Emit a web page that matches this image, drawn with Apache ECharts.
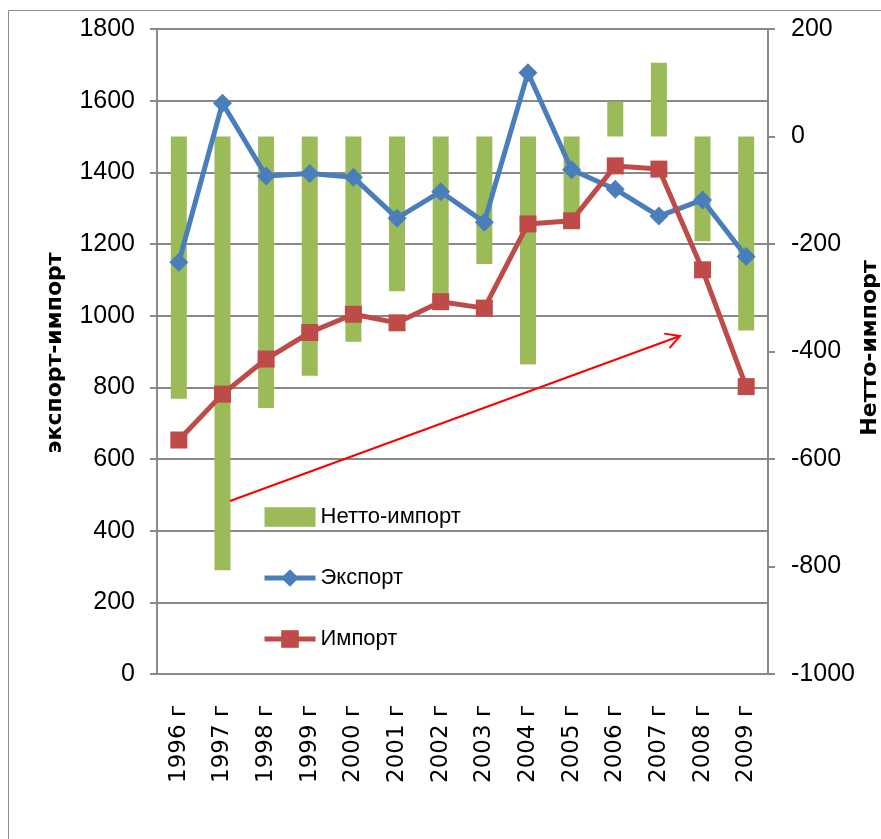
<!DOCTYPE html>
<html>
<head>
<meta charset="utf-8">
<script src="https://cdn.jsdelivr.net/npm/echarts@6/dist/echarts.min.js"></script>
<style>
    html, body { margin: 0; padding: 0; background: #fff; }
    #chart { width: 881px; height: 839px; }
</style>
</head>
<body>
<div id="chart"></div>
<script>
// годы
var years = ['1996 г','1997 г','1998 г','1999 г','2000 г','2001 г','2002 г',
             '2003 г','2004 г','2005 г','2006 г','2007 г','2008 г','2009 г'];
var exportData = [1149,1593,1390,1397,1386,1272,1346,1261,1678,1407,1353,1278,1323,1165];
var importData = [653,781,879,953,1004,980,1039,1021,1256,1265,1418,1409,1128,802];
var nettoData = [-488,-807,-505,-445,-382,-288,-305,-237,-424,-142,65,137,-195,-361];

var leftTitle = 'экспорт-импорт';
var rightTitle = 'Нетто-импорт';

var gray = '#898989';
var numFont = "'Liberation Sans', Arial, sans-serif";

// стрелка (аннотация)
var arrowFrom = [230, 501], arrowTo = [680, 336];

function arrowHead(from, to, len, ang) {
    var a = Math.atan2(to[1] - from[1], to[0] - from[0]);
    var p1 = [to[0] - len * Math.cos(a - ang), to[1] - len * Math.sin(a - ang)];
    var p2 = [to[0] - len * Math.cos(a + ang), to[1] - len * Math.sin(a + ang)];
    return [p1, to, p2];
}

function plain(v) { return String(v); }

function axisTitle(text, x, y) {
    return {
        type: 'text',
        x: x,
        y: y,
        rotation: Math.PI / 2,
        style: {
            text: text,
            fontFamily: 'DejaVu Sans',
            fontWeight: 'bold',
            fontSize: 22,
            fill: '#000',
            align: 'center',
            verticalAlign: 'middle'
        }
    };
}

var myChart = echarts.init(document.getElementById('chart'));

myChart.setOption({
    animation: false,
    grid: { left: 157, right: 113, top: 29, bottom: 165, outerBoundsMode: 'none' },
    legend: {
        orient: 'vertical',
        left: 262,
        top: 506,
        padding: 0,
        itemWidth: 51,
        itemHeight: 22,
        itemGap: 39,
        lineStyle: { width: 5 },
        textStyle: { fontFamily: numFont, fontSize: 22, color: '#000' },
        data: [
            { name: 'Нетто-импорт', icon: 'path://M0,0H50V19H0Z' },
            { name: 'Экспорт' },
            { name: 'Импорт' }
        ]
    },
    xAxis: {
        type: 'category',
        data: years,
        axisLine: { onZero: false, lineStyle: { color: gray, width: 2 } },
        axisTick: { length: 8, lineStyle: { color: gray, width: 2 } },
        axisLabel: {
            rotate: 90,
            margin: 31,
            interval: 0,
            fontFamily: 'DejaVu Sans',
            fontSize: 23,
            color: '#000'
        }
    },
    yAxis: [
        {
            type: 'value',
            min: 0,
            max: 1800,
            interval: 200,
            axisLine: { show: true, lineStyle: { color: gray, width: 2 } },
            axisTick: { show: true, length: 7, lineStyle: { color: gray, width: 2 } },
            axisLabel: { margin: 22, fontFamily: numFont, fontSize: 25, color: '#000', formatter: plain },
            splitLine: { show: true, lineStyle: { color: gray, width: 2 } }
        },
        {
            type: 'value',
            min: -1000,
            max: 200,
            interval: 200,
            axisLine: { show: true, lineStyle: { color: gray, width: 2 } },
            axisTick: { show: true, length: 7, lineStyle: { color: gray, width: 2 } },
            axisLabel: { margin: 23, fontFamily: numFont, fontSize: 25, color: '#000', formatter: plain },
            splitLine: { show: false }
        }
    ],
    series: [
        {
            name: 'Нетто-импорт',
            type: 'bar',
            yAxisIndex: 1,
            barWidth: 16,
            itemStyle: { color: '#9bbb59' },
            data: nettoData
        },
        {
            name: 'Экспорт',
            type: 'line',
            yAxisIndex: 0,
            symbol: 'diamond',
            symbolSize: 19,
            lineStyle: { color: '#4a7ebb', width: 5 },
            itemStyle: { color: '#4a7ebb' },
            data: exportData
        },
        {
            name: 'Импорт',
            type: 'line',
            yAxisIndex: 0,
            symbol: 'rect',
            symbolSize: 17,
            lineStyle: { color: '#be4b48', width: 5 },
            itemStyle: { color: '#be4b48' },
            data: importData
        }
    ],
    graphic: [
        {
            type: 'rect',
            shape: { x: 8.5, y: 10.5, width: 1000, height: 1000 },
            style: { fill: 'none', stroke: '#8c8c8c', lineWidth: 1 },
            z: -10
        },
        axisTitle(leftTitle, 55, 353),
        axisTitle(rightTitle, 870, 348),
        {
            type: 'line',
            shape: { x1: arrowFrom[0], y1: arrowFrom[1], x2: arrowTo[0], y2: arrowTo[1] },
            style: { stroke: '#ff0000', lineWidth: 2 },
            z: 100
        },
        {
            type: 'polyline',
            shape: { points: arrowHead(arrowFrom, arrowTo, 16, 0.5) },
            style: { stroke: '#ff0000', lineWidth: 2, fill: 'none' },
            z: 100
        }
    ]
});
</script>
</body>
</html>
